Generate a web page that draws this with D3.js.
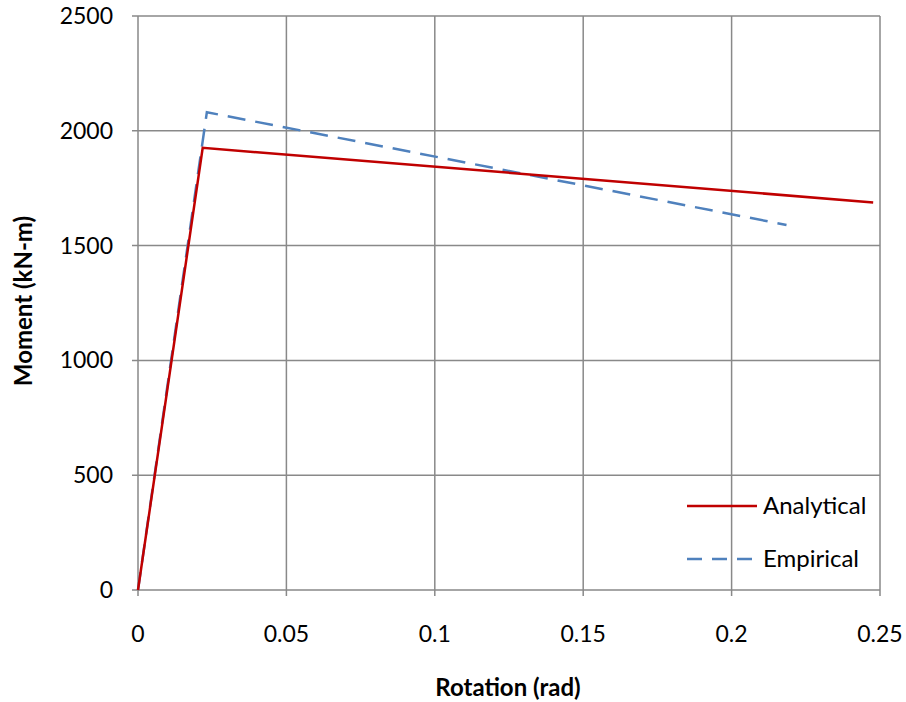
<!DOCTYPE html>
<html>
<head>
<meta charset="utf-8">
<script src="https://cdn.jsdelivr.net/npm/d3@7"></script>
<style>
  body { margin: 0; background: #fff; }
  svg { display: block; font-family: Lato, "Open Sans", sans-serif; }
</style>
</head>
<body>
<div id="chart"></div>
<script>
// data
const analytical = [[0, 0], [0.0218, 1926], [0.2477, 1688]]
const empirical = [[0, 0], [0.0232, 2081], [0.2185, 1590]]
const xTicks = [0, 0.05, 0.1, 0.15, 0.2, 0.25]
const yTicks = [0, 500, 1000, 1500, 2000, 2500]
const seriesNames = ["Analytical", "Empirical"]

const width = 906, height = 702
const margin = { left: 138, right: 26, top: 16, bottom: 112 }

const svg = d3.select("#chart").append("svg")
    .attr("width", width)
    .attr("height", height)

const x = d3.scaleLinear().domain([0, 0.25]).range([margin.left, width - margin.right])
const y = d3.scaleLinear().domain([0, 2500]).range([height - margin.bottom, margin.top])

// gridlines
const grid = svg.append("g").attr("stroke", "#898989").attr("stroke-width", 1.5)
grid.selectAll(".vx").data(xTicks).join("line")
    .attr("x1", d => x(d)).attr("x2", d => x(d))
    .attr("y1", y(2500)).attr("y2", y(0) + 6)
grid.selectAll(".hy").data(yTicks).join("line")
    .attr("x1", x(0) - 6).attr("x2", x(0.25))
    .attr("y1", d => y(d)).attr("y2", d => y(d))

// tick labels
svg.append("g").selectAll("text").data(xTicks).join("text")
    .attr("x", d => x(d)).attr("y", y(0) + 52)
    .attr("text-anchor", "middle")
    .style("font-size", "23px")
    .text(d => d)
svg.append("g").selectAll("text").data(yTicks).join("text")
    .attr("x", x(0) - 25).attr("y", d => y(d) + 8)
    .attr("text-anchor", "end")
    .style("font-size", "23px")
    .text(d => d)

// axis titles
svg.append("text")
    .attr("x", 508).attr("y", 696)
    .attr("text-anchor", "middle")
    .style("font-size", "24px").style("font-weight", "bold")
    .text("Rotation (rad)")
svg.append("text")
    .attr("transform", `translate(32,${y(1250) - 2}) rotate(-90)`)
    .attr("text-anchor", "middle")
    .style("font-size", "24px").style("font-weight", "bold")
    .text("Moment (kN-m)")

const line = d3.line().x(d => x(d[0])).y(d => y(d[1]))

svg.append("path").datum(empirical)
    .attr("d", line).attr("fill", "none")
    .attr("stroke", "#4F81BD").attr("stroke-width", 2.5)
    .attr("stroke-dasharray", "18,10")
svg.append("path").datum(analytical)
    .attr("d", line).attr("fill", "none")
    .attr("stroke", "#C00000").attr("stroke-width", 2.5)

// legend
const legend = svg.append("g")
const ly = [506, 559]
legend.selectAll("line").data(seriesNames).join("line")
    .attr("x1", 687).attr("x2", 757)
    .attr("y1", (d, i) => ly[i]).attr("y2", (d, i) => ly[i])
    .attr("stroke", (d, i) => i === 0 ? "#C00000" : "#4F81BD")
    .attr("stroke-width", 2.5)
    .attr("stroke-dasharray", (d, i) => i === 0 ? null : "15,10")
legend.selectAll("text").data(seriesNames).join("text")
    .attr("x", 763).attr("y", (d, i) => ly[i] + 8)
    .style("font-size", "24px")
    .text(d => d)
</script>
</body>
</html>
